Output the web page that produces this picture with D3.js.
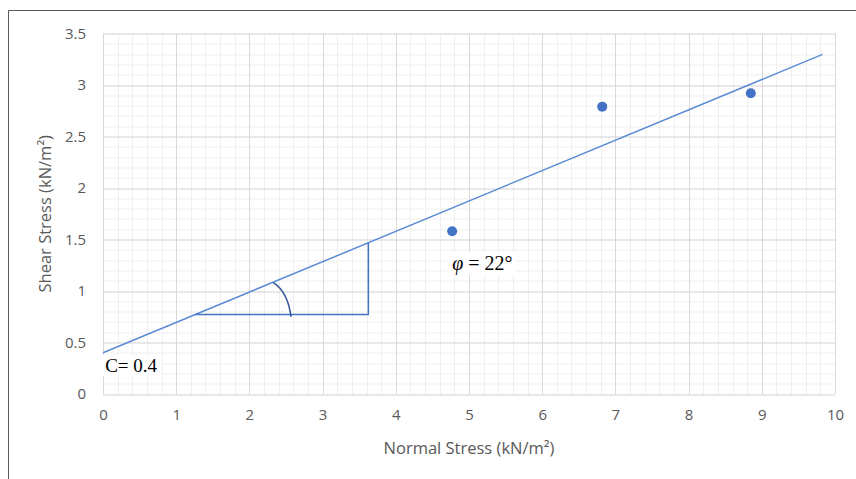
<!DOCTYPE html>
<html>
<head>
<meta charset="utf-8">
<script src="https://cdnjs.cloudflare.com/ajax/libs/d3/7.8.5/d3.min.js"></script>
<style>
  body { margin: 0; background: #fff; }
  text { font-family: "Open Sans", sans-serif; }
</style>
</head>
<body>
<svg></svg>
<script>
var width = 856,
    height = 479;

var margin = {top: 33.5, right: 21, bottom: 85, left: 103};

// data
var normalStress = [4.77, 6.82, 8.85];
var shearStress = [1.58, 2.79, 2.92];

var xTicks = [0, 1, 2, 3, 4, 5, 6, 7, 8, 9, 10];
var yTicks = [0, 0.5, 1, 1.5, 2, 2.5, 3, 3.5];

// failure envelope: intercept C and fitted slope
var cohesion = 0.4;
var slope = 0.2948;
var lineEnd = 9.83;

// construction triangle and angle arc
var triangle = [[1.26, 0.771], [3.625, 0.771], [3.625, 1.469]];
var arcPts = [[2.327, 1.081], [2.527, 0.99], [2.568, 0.748]];

var labels = [
  {text: "C= 0.4", x: 0.03, y: 0.213, size: 19},
  {text: "= 22°", sym: "φ", x: 4.77, y: 1.205, size: 20}
];

var w = width - margin.left - margin.right,
    h = height - margin.top - margin.bottom;

var x = d3.scaleLinear().domain([0, 10]).range([0, w]);
var y = d3.scaleLinear().domain([0, 3.5]).range([h, 0]);

var svg = d3.select("svg")
    .attr("width", width)
    .attr("height", height);

// outer frame (left and top edges visible)
svg.append("path")
    .attr("d", "M8.5,479V10.5H856")
    .attr("fill", "none")
    .attr("stroke", "#595959")
    .attr("stroke-width", 1);

var g = svg.append("g")
    .attr("transform", `translate(${margin.left}, ${margin.top})`);

// minor grid
var minorX = d3.range(0, 10.001, 0.2);
var minorY = d3.range(0, 3.5001, 0.1);
g.append("g").selectAll("line")
    .data(minorX)
  .enter().append("line")
    .attr("x1", d => Math.round(x(d)) + 0.5)
    .attr("x2", d => Math.round(x(d)) + 0.5)
    .attr("y1", 0).attr("y2", h)
    .attr("stroke", "#efefef");
g.append("g").selectAll("line")
    .data(minorY)
  .enter().append("line")
    .attr("y1", d => Math.round(y(d)) + 0.5)
    .attr("y2", d => Math.round(y(d)) + 0.5)
    .attr("x1", 0).attr("x2", w)
    .attr("stroke", "#efefef");

// major grid
g.append("g").selectAll("line")
    .data(xTicks)
  .enter().append("line")
    .attr("x1", d => Math.round(x(d)) + 0.5)
    .attr("x2", d => Math.round(x(d)) + 0.5)
    .attr("y1", 0).attr("y2", h)
    .attr("stroke", "#d9d9d9");
g.append("g").selectAll("line")
    .data(yTicks)
  .enter().append("line")
    .attr("y1", d => Math.round(y(d)) + 0.5)
    .attr("y2", d => Math.round(y(d)) + 0.5)
    .attr("x1", 0).attr("x2", w)
    .attr("stroke", "#d9d9d9");

// axes (labels only)
var xAxis = d3.axisBottom(x).tickValues(xTicks).tickSize(0).tickPadding(15)
    .tickFormat(d3.format("~g"));
var yAxis = d3.axisLeft(y).tickValues(yTicks).tickSize(0).tickPadding(17)
    .tickFormat(d3.format("~g"));

g.append("g")
    .attr("class", "x axis")
    .attr("transform", `translate(0, ${h})`)
    .call(xAxis)
    .call(s => s.select(".domain").remove());

g.append("g")
    .attr("class", "y axis")
    .call(yAxis)
    .call(s => s.select(".domain").remove());

g.selectAll(".axis text")
    .attr("fill", "#595959")
    .style("font-size", "15px")
    .style("font-family", "'Open Sans', sans-serif");

// axis titles
g.append("text")
    .attr("x", w / 2)
    .attr("y", h + 60)
    .attr("text-anchor", "middle")
    .attr("fill", "#595959")
    .style("font-size", "16.5px")
    .text("Normal Stress (kN/m²)");

g.append("text")
    .attr("transform", `translate(${-52}, ${h / 2}) rotate(-90)`)
    .attr("text-anchor", "middle")
    .attr("fill", "#595959")
    .style("font-size", "16.5px")
    .text("Shear Stress (kN/m²)");

// failure envelope
var line = d3.line().x(d => x(d[0])).y(d => y(d[1]));
g.append("path")
    .attr("d", line([[0, cohesion], [lineEnd, cohesion + slope * lineEnd]]))
    .attr("fill", "none")
    .attr("stroke", "#5b8bd6")
    .attr("stroke-width", 1.5);

// triangle
g.append("path")
    .attr("d", line(triangle))
    .attr("fill", "none")
    .attr("stroke", "#4472c4")
    .attr("stroke-width", 1.5);

// angle arc
var a = arcPts.map(p => [x(p[0]), y(p[1])]);
g.append("path")
    .attr("d", `M${a[0]}Q${a[1]} ${a[2]}`)
    .attr("fill", "none")
    .attr("stroke", "#2f5597")
    .attr("stroke-width", 1.5);

// points
g.append("g").selectAll("circle")
    .data(normalStress)
  .enter().append("circle")
    .attr("cx", d => x(d))
    .attr("cy", (d, i) => y(shearStress[i]))
    .attr("r", 5)
    .attr("fill", "#4472c4");

// annotations on white boxes
labels.forEach(function(l) {
  var t = g.append("text")
      .attr("x", x(l.x))
      .attr("y", y(l.y))
      .attr("fill", "#000")
      .style("font-family", "'Liberation Serif', serif")
      .style("font-size", l.size + "px");
  if (l.sym) {
    t.append("tspan").style("font-style", "italic").text(l.sym);
    t.append("tspan").text(" " + l.text);
  } else {
    t.text(l.text);
  }
  var b = t.node().getBBox();
  g.insert("rect", function() { return t.node(); })
      .attr("x", b.x - 4).attr("y", b.y)
      .attr("width", b.width + 8).attr("height", b.height)
      .attr("fill", "#fff");
});
</script>
</body>
</html>
